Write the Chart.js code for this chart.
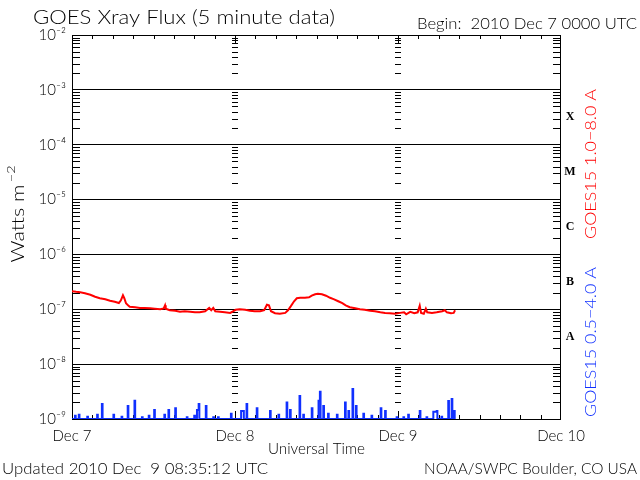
<!DOCTYPE html>
<html><head><meta charset="utf-8">
<script src="https://cdn.jsdelivr.net/npm/chart.js@4.4.0/dist/chart.umd.min.js"></script>
<style>html,body{margin:0;padding:0;background:#fff;}</style>
</head><body>
<canvas id="c" width="640" height="480"></canvas>
<script>
// ---- data ----
const dayHours = [0, 24, 48, 72];
const dayLabels = ['Dec 7', 'Dec 8', 'Dec 9', 'Dec 10'];
const decadeTicks = [1e-9, 1e-8, 1e-7, 1e-6, 1e-5, 1e-4, 1e-3, 1e-2];
const decadeLabels = ['10⁻⁹', '10⁻⁸', '10⁻⁷', '10⁻⁶', '10⁻⁵', '10⁻⁴', '10⁻³', '10⁻²'];
const classLetters = ['A', 'B', 'C', 'M', 'X'];
const classLevels = [3.16e-8, 3.16e-7, 3.16e-6, 3.16e-5, 3.16e-4];

const redHours = [0,0.6,1.2,1.9,2.7,3.4,4.1,4.9,5.6,6.3,6.9,7.2,7.5,7.7,7.95,8.25,8.5,9.3,10.0,10.7,
 11.5,12.2,13.0,13.5,13.7,13.8,14.4,15.2,15.9,16.6,17.4,18.1,18.8,19.6,20.2,20.5,20.8,21.1,21.8,22.5,
 23.3,23.7,24.1,24.7,25.5,26.2,26.9,27.7,28.3,28.7,29.0,29.3,29.9,30.6,31.4,31.8,32.2,32.7,33.1,33.6,
 34.3,34.9,35.3,35.8,36.2,36.8,37.4,38.0,38.6,39.2,39.8,40.3,40.9,41.7,42.4,43.1,43.9,44.6,45.4,46.1,
 46.8,47.6,48.3,48.9,49.2,49.8,50.4,50.9,51.2,51.4,51.8,52.1,52.3,53.0,53.7,54.5,54.9,55.2,55.8,56.2,56.4];
const redFlux = [2.13e-7,2.08e-7,2.04e-7,1.96e-7,1.84e-7,1.69e-7,1.59e-7,1.52e-7,1.43e-7,1.37e-7,
 1.30e-7,1.46e-7,1.80e-7,1.59e-7,1.29e-7,1.18e-7,1.11e-7,1.09e-7,1.06e-7,1.06e-7,
 1.04e-7,1.02e-7,1.00e-7,1.04e-7,1.18e-7,1.02e-7,0.96e-7,0.94e-7,0.90e-7,0.92e-7,
 0.90e-7,0.88e-7,0.88e-7,0.92e-7,1.06e-7,0.96e-7,1.06e-7,0.92e-7,0.90e-7,0.88e-7,
 0.86e-7,0.92e-7,0.98e-7,1.00e-7,0.98e-7,0.94e-7,0.92e-7,0.92e-7,0.96e-7,1.21e-7,
 1.18e-7,0.92e-7,0.85e-7,0.83e-7,0.86e-7,0.96e-7,1.13e-7,1.40e-7,1.59e-7,1.62e-7,
 1.62e-7,1.65e-7,1.77e-7,1.88e-7,1.92e-7,1.88e-7,1.77e-7,1.62e-7,1.52e-7,1.40e-7,
 1.29e-7,1.18e-7,1.09e-7,1.04e-7,1.00e-7,0.98e-7,0.94e-7,0.92e-7,0.88e-7,0.86e-7,
 0.85e-7,0.83e-7,0.86e-7,0.88e-7,0.81e-7,0.90e-7,0.85e-7,0.88e-7,1.16e-7,0.86e-7,
 0.83e-7,1.02e-7,0.88e-7,0.86e-7,0.88e-7,0.92e-7,0.96e-7,0.88e-7,0.85e-7,0.86e-7,0.96e-7];

const blueHours = [0,0.44,0.54,1.0,1.1,2.25,2.35,3.7,3.8,4.4,4.5,6.1,6.2,7.3,7.4,8.2,8.3,9.2,9.3,
 10.3,10.4,11.3,11.4,12.1,12.2,13.6,13.7,14.2,14.3,15.2,15.3,16.9,17.0,18.0,18.1,18.4,18.65,18.75,
 19.7,19.8,20.8,20.9,21.5,21.6,23.4,23.5,24.9,25.3,25.7,25.8,27.2,27.3,29.15,29.25,30.4,30.5,
 31.6,31.7,32.1,32.2,33.5,33.6,34.05,34.15,35.3,35.4,36.3,36.5,36.6,37.0,37.1,37.7,37.8,39.0,39.1,
 40.2,40.3,40.7,40.8,41.3,41.4,41.8,41.9,42.9,43.0,44.1,44.2,45.45,45.55,46.1,46.2,47.8,47.9,
 48.8,48.9,49.5,49.6,51.2,51.3,52.2,52.3,53.2,53.7,53.8,54.4,54.5,55.4,55.5,55.9,56.0,56.25,56.35];
const blueFlux = [1.0e-9,1.15e-9,1.0e-9,1.2e-9,1.0e-9,1.1e-9,1.0e-9,1.2e-9,1.0e-9,1.88e-9,1.0e-9,1.2e-9,1.0e-9,1.1e-9,1.0e-9,1.72e-9,1.0e-9,2.15e-9,1.0e-9,
 1.08e-9,1.0e-9,1.15e-9,1.0e-9,1.46e-9,1.0e-9,1.2e-9,1.0e-9,1.46e-9,1.0e-9,1.57e-9,1.0e-9,1.08e-9,1.0e-9,1.15e-9,1.0e-9,1.46e-9,1.88e-9,1.0e-9,
 1.72e-9,1.0e-9,1.08e-9,1.0e-9,1.08e-9,1.0e-9,1.25e-9,1.0e-9,1.4e-9,1.0e-9,1.88e-9,1.0e-9,1.57e-9,1.0e-9,1.4e-9,1.0e-9,1.2e-9,1.0e-9,
 2.0e-9,1.0e-9,1.46e-9,1.0e-9,2.62e-9,1.0e-9,1.2e-9,1.0e-9,1.57e-9,1.0e-9,2.15e-9,3.14e-9,1.0e-9,1.72e-9,1.0e-9,1.25e-9,1.0e-9,1.2e-9,1.0e-9,
 2.0e-9,1.0e-9,1.4e-9,1.0e-9,3.52e-9,1.0e-9,1.72e-9,1.0e-9,1.25e-9,1.0e-9,1.15e-9,1.0e-9,1.57e-9,1.0e-9,1.4e-9,1.0e-9,1.08e-9,1.0e-9,
 1.08e-9,1.0e-9,1.2e-9,1.0e-9,1.4e-9,1.0e-9,1.08e-9,1.0e-9,1.35e-9,1.4e-9,1.0e-9,1.1e-9,1.0e-9,2.13e-9,1.0e-9,2.31e-9,1.0e-9,1.4e-9,1.0e-9];

const titleText = 'GOES Xray Flux (5 minute data)';
const beginText = 'Begin:  2010 Dec 7 0000 UTC';
const yTitle = 'Watts m';
const xTitle = 'Universal Time';
const updatedText = 'Updated 2010 Dec  9 08:35:12 UTC';
const creditText = 'NOAA/SWPC Boulder, CO USA';
const redLabel = 'GOES15 1.0\u22128.0 A';
const blueLabel = 'GOES15 0.5\u22124.0 A';

// ---- drawing ----
const FONT = 'Lato, "DejaVu Sans", sans-serif';
const WEIGHT = '300 ';
Chart.defaults.font.family = FONT;
Chart.defaults.font.weight = '300';

function fitText(ctx, text, x, y, w, align, size, color, rot) {
  ctx.save();
  ctx.font = WEIGHT + size + 'px ' + FONT;
  const m = ctx.measureText(text).width;
  ctx.translate(x, y);
  if (rot) ctx.rotate(rot);
  ctx.scale(w / m, 1);
  ctx.textAlign = align;
  ctx.textBaseline = 'middle';
  ctx.fillStyle = color;
  ctx.fillText(text, 0, 0);
  ctx.restore();
}

const decor = {
  id: 'decor',
  beforeDatasetsDraw(chart) {
    const {ctx, chartArea: a, scales: {x, y}} = chart;
    ctx.save();
    ctx.strokeStyle = '#000';
    ctx.lineWidth = 1;
    ctx.beginPath();
    for (let d = -9; d < -2; d++) {
      for (let k = 2; k <= 9; k++) {
        const py = Math.round(y.getPixelForValue(k * Math.pow(10, d))) + 0.5;
        ctx.moveTo(a.left, py); ctx.lineTo(a.left + 8, py);
        ctx.moveTo(a.right, py); ctx.lineTo(a.right - 8, py);
        for (const h of dayHours.slice(1, 3)) {
          const px = Math.round(x.getPixelForValue(h));
          ctx.moveTo(px - 3, py); ctx.lineTo(px + 3, py);
        }
      }
    }
    for (let h = 3; h < 72; h += 3) {
      const px = Math.round(x.getPixelForValue(h)) + 0.5;
      const len = (h % 24 === 0) ? 8 : 4;
      ctx.moveTo(px, a.bottom); ctx.lineTo(px, a.bottom - len);
      ctx.moveTo(px, a.top); ctx.lineTo(px, a.top + len);
    }
    ctx.stroke();
    ctx.strokeRect(a.left + 0.5, a.top + 0.5, a.right - a.left - 1, a.bottom - a.top);
    ctx.restore();
  },
  afterDraw(chart) {
    const {ctx, chartArea: a, scales: {y}} = chart;
    fitText(ctx, titleText, 33, 18, 302, 'left', 19, '#000');
    fitText(ctx, beginText, 417, 24, 220, 'left', 15, '#000');
    // y title with superscript
    ctx.save();
    ctx.translate(17, 214);
    ctx.rotate(-Math.PI / 2);
    ctx.font = WEIGHT + '18px ' + FONT;
    ctx.fillStyle = '#000';
    ctx.textBaseline = 'middle';
    const w1 = ctx.measureText(yTitle).width;
    ctx.font = WEIGHT + '12px ' + FONT;
    const w2 = ctx.measureText('\u22122').width;
    const tot = w1 + 2 + w2;
    const sc = 97 / tot;
    ctx.scale(sc, 1);
    ctx.font = WEIGHT + '18px ' + FONT;
    ctx.textAlign = 'left';
    ctx.fillText(yTitle, -tot / 2, 1);
    ctx.font = WEIGHT + '12px ' + FONT;
    ctx.fillText('\u22122', -tot / 2 + w1 + 2, -6);
    ctx.restore();

    fitText(ctx, xTitle, (a.left + a.right) / 2, 449, 97, 'center', 15, '#000');
    fitText(ctx, updatedText, 2, 469, 266, 'left', 16, '#000');
    fitText(ctx, creditText, 637, 469, 213, 'right', 16, '#000');
    fitText(ctx, redLabel, 591, 164, 150, 'center', 16, '#ff0000', -Math.PI / 2);
    fitText(ctx, blueLabel, 591, 342, 150, 'center', 16, '#1030ff', -Math.PI / 2);

    ctx.save();
    ctx.font = 'bold 12px "Liberation Serif", "DejaVu Serif", serif';
    ctx.fillStyle = '#000';
    ctx.textAlign = 'center';
    ctx.textBaseline = 'middle';
    classLetters.forEach((c, i) => {
      ctx.fillText(c, 570, y.getPixelForValue(classLevels[i]));
    });
    ctx.restore();
  }
};

function decadeIndex(v) {
  return decadeTicks.findIndex(t => Math.abs(Math.log10(t) - Math.log10(v)) < 1e-6);
}

new Chart(document.getElementById('c'), {
  type: 'line',
  data: {
    datasets: [
      {
        data: blueHours.map((h, i) => ({x: h, y: blueFlux[i]})),
        borderColor: '#1030ff', borderWidth: 2, pointRadius: 0, stepped: 'before', tension: 0
      },
      {
        data: redHours.map((h, i) => ({x: h, y: redFlux[i]})),
        borderColor: '#ff0000', borderWidth: 2, pointRadius: 0, tension: 0
      }
    ]
  },
  options: {
    responsive: false,
    animation: false,
    layout: {padding: {left: 0, right: 79, top: 35, bottom: 0}},
    plugins: {legend: {display: false}, tooltip: {enabled: false}, title: {display: false}},
    scales: {
      x: {
        type: 'linear', min: 0, max: 72,
        afterBuildTicks: s => { s.ticks = dayHours.map(v => ({value: v})); },
        afterFit: s => { s.height = 61; },
        grid: {display: false, drawTicks: false},
        border: {display: false},
        ticks: {
          autoSkip: false, maxRotation: 0, padding: 8, color: '#000',
          font: {size: 15, weight: '300'},
          callback: v => dayLabels[dayHours.indexOf(v)]
        }
      },
      y: {
        type: 'logarithmic', min: 1e-9, max: 1e-2,
        afterBuildTicks: s => { s.ticks = decadeTicks.map(v => ({value: v})); },
        afterFit: s => { s.width = 72; },
        grid: {color: '#000', lineWidth: 1, drawTicks: false},
        border: {display: false},
        ticks: {
          autoSkip: false, padding: 6, color: '#000',
          font: {size: 15, weight: '300'},
          callback: v => decadeLabels[decadeIndex(v)]
        }
      }
    }
  },
  plugins: [decor]
});
</script>
</body></html>
